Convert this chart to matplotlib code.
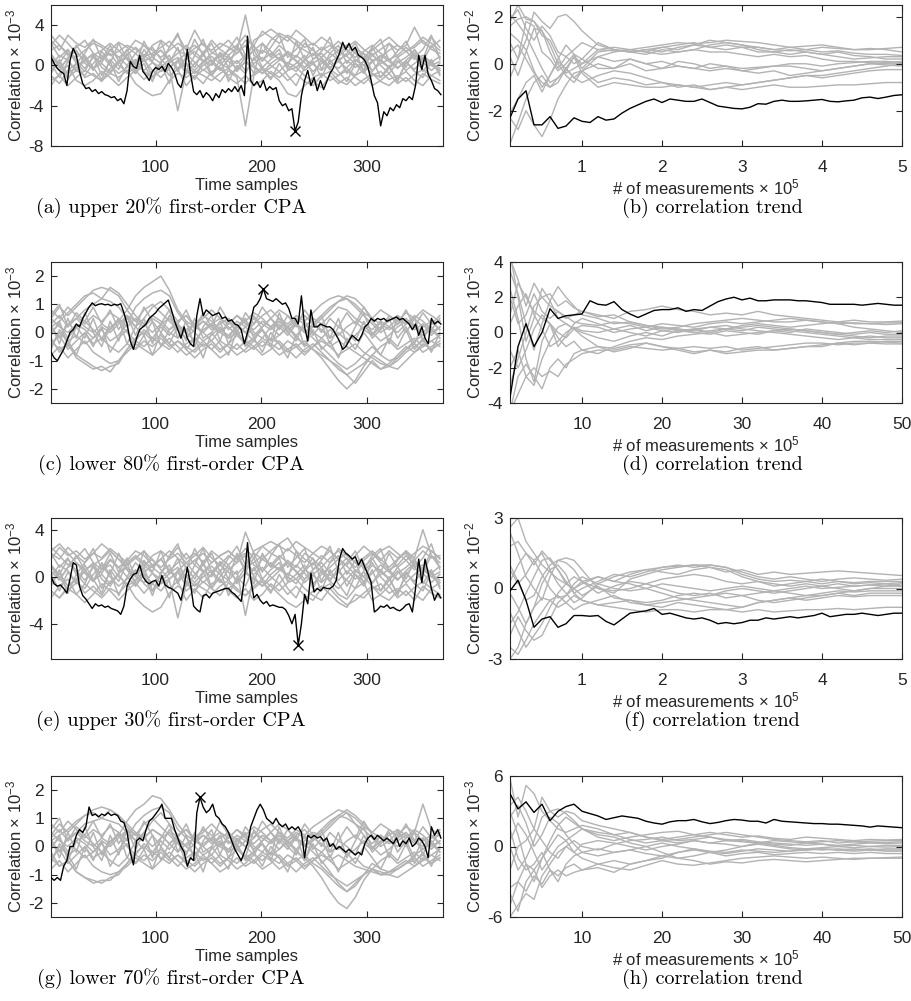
import numpy as np
import matplotlib
matplotlib.use("Agg")
import matplotlib.pyplot as plt

plt.rcParams["font.family"] = ["Liberation Sans", "DejaVu Sans"]
plt.rcParams["mathtext.fontset"] = "custom"
plt.rcParams["mathtext.rm"] = "Liberation Sans"
plt.rcParams["mathtext.it"] = "Liberation Sans:italic"
plt.rcParams["mathtext.default"] = "regular"
plt.rcParams["axes.unicode_minus"] = False

# ---------------- DATA (values x 1e-3 or 1e-2 as on the axes) ----------------
# Left panels: gray traces sampled every 8 time samples, black trace every 3
gray_t = np.arange(1, 370, 8)        # 47 time samples
black_t = np.arange(1, 371, 3)       # 124 time samples

a_gray = [
    [1.5, 2.0, 1.2, 0.8, 1.5, 2.2, 1.8, 1.0, 1.4, 2.0,
     1.6, 0.9, 1.2, 1.8, 2.4, 1.5, 1.0, 1.7, 2.2, 1.3,
     0.8, 1.5, 2.0, 3.0, 1.8, 1.2, 2.5, 3.2, 2.8, 2.0,
     1.5, 1.0, 1.8, 1.2, 0.6, 1.0, 1.6, 1.2, 0.5, 0.8,
     1.5, 2.0, 1.4, 1.8, 2.5, 1.6, 1.2],
    [0.5, -0.5, 0.8, 1.5, 0.2, -0.3, 0.6, 1.2, 0.0, -0.6,
     0.4, 1.0, 1.8, 0.6, -0.2, 0.5, 1.2, 0.3, -0.5, 0.2,
     1.0, 0.4, -0.3, 0.8, 1.5, 2.2, 1.4, 0.6, 0.2, 1.0,
     0.3, -0.6, 0.2, 0.8, 1.5, 0.9, 0.2, -0.4, 0.3, 1.0,
     0.4, -0.3, 0.5, 1.2, 0.6, 0.0, 0.4],
    [-1.5, -1.0, -2.0, -1.2, -0.5, -1.0, -1.5, -0.8, -1.2, -0.5,
     -1.8, -2.5, -3.0, -2.8, -1.5, -0.8, -1.2, -0.6, -1.0, -1.5,
     -0.8, -0.3, -1.0, -1.8, -0.8, -0.2, -0.8, -1.5, -2.8, -3.1,
     -2.0, -1.2, -0.8, -1.5, -1.0, -0.5, -1.2, -1.8, -1.0, -0.6,
     -1.4, -1.0, -1.6, -0.9, -0.4, -1.0, -1.5],
    [2.5, 1.5, 3.0, 2.2, 1.8, 2.5, 2.0, 1.5, 2.3, 1.8,
     1.2, 2.0, 1.5, 0.8, 1.5, 2.2, 1.6, 3.5, 2.0, 1.5,
     2.2, 1.8, 1.2, 2.5, 2.0, 3.4, 2.8, 2.2, 3.0, 2.5,
     1.8, 2.2, 1.5, 2.0, 1.2, 1.8, 2.4, 1.6, 1.0, 1.6,
     2.2, 1.5, 2.0, 3.8, 2.2, 1.8, 2.5],
    [-0.5, 0.3, -0.8, -0.2, 0.5, -0.3, 0.2, -0.6, 0.3, 0.8,
     0.0, -0.5, 0.3, -0.2, 0.6, -0.4, 0.2, -0.5, 0.4, 0.9,
     0.2, -0.3, 0.5, -0.5, 0.2, 0.8, 0.0, -0.6, 0.3, -0.2,
     0.6, 0.1, -0.5, 0.2, -0.3, 0.5, -0.2, 0.4, -0.5, 0.2,
     0.6, -0.2, 0.3, -0.4, 0.5, 0.2, -0.3],
    [1.0, 0.2, 1.5, 0.5, -0.3, 0.8, 0.3, 1.6, 0.8, 0.0,
     1.2, 0.4, 0.9, 1.5, 0.6, -0.3, 0.8, 1.4, 0.5, 0.0,
     1.3, 0.7, 0.2, 1.0, 0.5, 1.5, 1.0, 2.0, 1.2, 0.5,
     -0.2, 0.6, 1.2, 0.3, 0.9, 1.6, 0.5, 0.0, 1.0, 0.4,
     -0.2, 0.8, 1.4, 0.6, 1.0, 0.3, 0.9],
    [-1.0, -1.8, -0.5, 0.2, -1.2, -0.8, -1.6, -0.3, 0.4, -0.8,
     -0.2, 0.5, -0.5, -1.2, -0.3, -4.5, -0.6, -1.2, -0.4, -1.0,
     -1.6, -0.5, -1.2, -6.0, -1.0, -0.4, -1.2, -0.6, -1.5, -0.8,
     -1.6, -2.0, -1.0, -0.6, -1.5, -1.9, -1.0, -0.5, -2.0, -1.5,
     -0.8, -1.8, -1.2, -2.0, -0.8, -1.4, -1.8],
    [3.0, 2.0, 1.0, 1.8, 2.5, 1.2, 0.6, 1.5, 0.8, 1.4,
     2.5, 2.0, 1.0, 1.5, 0.5, 1.2, 2.0, 1.0, 0.4, 1.2,
     1.8, 2.5, 1.5, 5.0, 1.0, 0.5, 1.2, 0.6, 1.4, 0.8,
     2.2, 1.5, 0.8, 1.6, 2.4, 1.5, 0.8, 1.4, 2.0, 1.2,
     0.6, 1.0, 1.8, 1.0, 0.6, 2.8, 1.8],
    [0.0, 1.0, 0.5, -0.5, -1.0, 0.2, 1.0, 0.0, -0.8, -0.2,
     0.6, -0.6, -1.2, -0.5, 0.3, 0.8, 0.0, -0.8, 0.0, 0.5,
     -0.3, -1.0, -0.4, 0.3, -0.2, -0.8, 0.2, 0.8, 0.0, -0.6,
     0.5, 1.2, 0.4, -0.4, -1.0, -0.2, 0.6, 0.0, -0.8, -1.2,
     -0.3, 0.5, -0.5, 0.2, 0.8, 0.0, -0.5],
    [-2.0, -0.8, 0.0, -1.5, -2.0, -1.5, -0.6, -1.2, -2.0, -1.2,
     -0.5, -1.4, -0.6, 0.2, -1.0, -0.4, -2.0, -1.0, -1.8, -0.6,
     -0.2, -1.2, -1.8, -1.0, -2.0, -1.5, -0.6, -1.2, -0.5, -0.2,
     -1.0, -1.6, -2.2, -1.0, -1.8, -1.2, -2.0, -1.4, -0.8, -1.6,
     -2.0, -1.2, -0.6, -1.5, -2.0, -1.0, -0.5],
    [2.0, 3.0, 2.2, 1.2, 0.6, 1.0, 1.5, 2.2, 1.5, 0.6,
     0.2, 0.8, 2.0, 2.5, 1.8, 3.0, 1.5, 2.0, 1.2, 2.5,
     1.6, 1.0, 1.8, 0.5, 2.5, 3.0, 3.6, 3.0, 2.4, 3.5,
     2.8, 2.0, 2.8, 2.2, 1.5, 2.0, 1.2, 0.8, 1.5, 2.2,
     2.8, 2.0, 1.4, 2.0, 2.8, 2.2, 1.5],
    [0.8, 0.0, -1.2, -0.5, 0.5, 1.2, -0.2, -0.8, 0.3, 1.0,
     1.8, 1.0, 0.3, -0.6, -0.2, 0.4, -0.8, 0.2, 1.0, 0.3,
     -0.5, 0.6, 1.2, 2.0, 0.0, -0.8, -0.2, 0.5, 1.2, 0.4,
     -0.5, 0.2, 0.8, -0.2, 0.4, -0.3, -1.0, 0.5, 1.2, 0.0,
     -0.8, 0.3, 0.8, 1.5, 0.3, -0.5, 0.2],
    [1.2, -0.2, 0.6, 2.0, 0.8, -0.5, 1.4, 0.2, 2.2, 0.6,
     -0.4, 1.6, 0.4, 2.4, 0.2, 1.8, -0.6, 1.0, 2.6, 0.4,
     1.2, -0.2, 2.0, 0.6, -0.8, 2.2, 0.8, 1.6, -0.2, 2.4,
     0.6, 1.8, -0.4, 1.2, 2.0, 0.2, 1.4, -0.6, 1.8, 0.4,
     2.2, 0.8, -0.2, 1.6, 0.4, 2.0, 0.8],
    [-0.8, 0.6, -1.4, 0.2, -0.6, 1.0, -1.0, 0.4, -1.6, 0.0,
     -0.8, 0.8, -1.2, 0.2, -1.8, 0.6, -0.4, -1.4, 0.4, -1.0,
     0.6, -1.6, 0.0, -0.8, 0.8, -0.4, -1.4, 0.2, -1.0, -2.0,
     -0.2, 0.4, -1.2, 0.6, -0.6, -1.6, 0.2, -0.8, 0.6, -1.2,
     0.0, -1.6, 0.4, -0.6, -1.2, 0.4, -0.8],
    [2.2, 0.8, 1.6, 0.2, 1.2, 2.6, 0.6, 2.0, 0.4, 1.6,
     0.0, 2.4, 0.8, 0.2, 1.8, 3.2, 0.6, 2.6, 1.0, 2.2,
     0.4, 1.6, 2.8, 1.0, 2.0, 0.4, 1.8, 3.0, 0.8, 1.6,
     2.6, 0.6, 1.4, 2.8, 0.4, 1.2, 2.2, 0.6, 1.8, 2.6,
     0.4, 1.4, 2.4, 0.8, 1.6, 3.0, 0.6],
    [0.2, -1.2, 0.4, -0.6, 1.0, -0.2, -1.4, 0.6, -0.4, 1.2,
     -0.8, 0.2, -1.6, 0.4, 1.0, -0.6, 0.8, -0.2, 1.4, -1.0,
     0.0, 1.0, -0.6, 0.4, 1.6, -0.2, 0.6, 1.2, -0.4, 0.2,
     1.0, -1.0, 0.6, -0.4, 0.8, -0.8, 0.4, 1.2, -0.6, 0.6,
     -0.2, -1.4, 0.2, 1.0, -0.6, 0.6, -1.0],
]
a_black = [
    0.8, 0.2, -0.3, -0.6, -0.8, -2.0, 0.5, 1.7, 1.0, -0.6,
    -1.8, -2.3, -2.2, -2.6, -2.4, -2.8, -2.6, -2.9, -3.0, -3.2,
    -3.1, -3.5, -3.3, -3.8, -2.5, 0.4, -0.1, -0.3, 1.0, -0.6,
    -1.0, -1.5, -0.6, -0.2, -0.4, -0.1, -0.6, 0.2, -0.2, -0.8,
    -1.8, -2.2, -1.0, 1.6, -0.8, -2.6, -2.9, -2.5, -3.2, -2.7,
    -3.0, -3.5, -2.8, -3.2, -2.4, -2.7, -2.3, -2.6, -2.1, -2.6,
    -2.0, -3.0, 2.9, -1.5, -2.0, -1.6, -2.2, -1.5, -2.5, -2.1,
    -2.4, -2.2, -3.5, -4.0, -3.8, -4.5, -4.3, -6.5, -5.6, -3.0,
    -1.5, -0.5, -2.0, -1.2, -2.5, -1.5, -2.4, -1.6, -0.8, -0.3,
    0.5, 1.2, 2.3, 1.6, 2.2, 1.5, 1.8, 1.0, 0.8, 0.5,
    -0.2, -1.5, -3.0, -3.7, -6.0, -4.6, -5.0, -4.2, -4.5, -3.9,
    -4.2, -3.3, -3.5, -3.1, -3.4, -2.0, 1.0, -0.4, 1.0, -0.9,
    -1.5, -2.3, -2.5, -2.9,
]

c_gray = [
    [0.5, 0.9, 0.6, 0.9, 1.2, 1.5, 1.6, 1.5, 1.3, 0.8,
     0.4, 0.2, 0.5, 0.3, 0.0, -0.2, 0.1, 0.3, 0.0, -0.3,
     0.1, 0.2, -0.1, 0.2, 0.5, 0.3, 0.1, 0.4, 0.2, -0.1,
     0.2, 0.5, 0.3, 0.6, 0.9, 0.8, 0.5, 0.3, 0.1, 0.4,
     0.2, 0.0, 0.3, 0.5, 0.2, 0.4, 0.1],
    [-0.3, -0.6, -0.4, -0.8, -1.0, -1.2, -1.35, -1.2, -1.1, -0.6,
     -0.3, -0.5, -0.2, -0.4, -0.6, -0.3, -0.5, -0.7, -0.4, -0.6,
     -0.3, -0.5, -0.8, -0.6, -0.3, -0.5, -0.2, -0.4, -0.7, -0.5,
     -0.3, -0.6, -0.8, -1.0, -1.3, -1.5, -1.3, -1.1, -0.8, -1.0,
     -1.2, -1.3, -1.0, -0.7, -0.5, -0.3, -0.5],
    [0.2, -0.2, 0.3, 0.5, 0.2, 0.0, 0.3, 0.1, 0.4, 0.8,
     1.3, 1.6, 1.8, 2.0, 1.5, 0.8, 0.4, 0.2, 0.4, 0.1,
     0.3, 0.5, 0.2, 0.4, 0.0, -0.2, 0.2, 0.4, 0.1, 0.3,
     0.0, 0.2, 0.5, 0.8, 1.1, 1.3, 1.2, 0.9, 0.5, 0.3,
     0.1, 0.3, 0.5, 0.2, 0.0, 0.3, 0.4],
    [-0.5, 0.0, -0.3, -0.1, -0.4, -0.2, 0.1, -0.3, -0.1, 0.3,
     0.9, 1.2, 1.4, 1.5, 1.3, 0.7, 0.3, 0.0, -0.3, -0.1,
     0.2, -0.2, 0.0, -0.4, -0.2, 0.1, -0.3, -0.1, 0.2, -0.2,
     -0.4, -0.6, -0.9, -1.3, -1.7, -2.0, -1.7, -1.2, -0.8, -0.5,
     -0.3, -0.6, -0.4, -0.2, -0.5, -0.3, -0.1],
    [0.8, 0.5, 0.9, 0.6, 0.3, 0.6, 0.4, 0.7, 0.5, 0.2,
     0.5, 0.3, 0.6, 0.4, 0.1, 0.4, 0.6, 0.3, 0.5, 0.8,
     0.5, 0.3, 0.6, 0.4, 0.7, 0.5, 0.2, 0.5, 0.3, 0.6,
     0.4, 0.7, 1.0, 1.2, 1.3, 1.2, 1.0, 0.7, 0.5, 0.8,
     0.6, 0.4, 0.7, 0.5, 0.8, 0.6, 0.4],
    [0.0, 0.3, -0.2, 0.2, 0.4, 0.1, -0.2, 0.2, 0.4, 0.0,
     -0.3, 0.1, -0.2, 0.2, -0.1, 0.3, 0.0, -0.3, 0.1, 0.3,
     0.0, -0.2, 0.3, 0.0, -0.3, 0.2, 0.5, 0.2, -0.1, 0.3,
     0.1, -0.2, -0.5, -0.8, -1.1, -1.3, -1.1, -0.8, -0.5, -0.8,
     -1.0, -0.9, -0.6, -0.3, -0.1, 0.2, -0.2],
    [-0.8, -0.5, -0.9, -0.6, -0.3, -0.7, -0.9, -1.1, -1.0, -0.7,
     -0.4, -0.6, -0.8, -0.5, -0.2, -0.5, -0.8, -0.6, -0.3, -0.6,
     -0.9, -0.7, -0.4, -0.7, -0.5, -0.8, -0.6, -0.3, -0.6, -0.4,
     -0.7, -0.5, -0.2, -0.5, -0.8, -0.6, -0.4, -0.7, -0.9, -1.1,
     -1.2, -0.9, -0.6, -0.4, -0.7, -0.5, -0.3],
    [0.3, 0.6, 0.2, 0.5, 0.8, 1.0, 1.2, 1.1, 0.9, 0.5,
     0.2, 0.5, 0.9, 1.1, 0.8, 0.4, 0.6, 0.2, 0.0, 0.3,
     0.5, 0.1, 0.4, 0.2, -0.1, 0.2, 0.5, 0.8, 0.6, 0.3,
     0.0, 0.3, 0.6, 0.9, 1.1, 1.2, 0.9, 0.6, 0.3, 0.0,
     0.2, 0.5, 0.3, 0.6, 0.4, 0.1, 0.5],
    [-0.2, -0.7, -0.4, -0.9, -1.1, -1.3, -1.2, -1.4, -1.0, -0.6,
     -0.2, 0.0, -0.3, -0.1, -0.4, -0.7, -0.4, -0.2, -0.5, -0.3,
     -0.6, -0.4, -0.1, -0.4, -0.6, -0.3, -0.5, -0.8, -0.6, -0.9,
     -0.6, -0.4, -0.7, -1.0, -1.2, -1.5, -1.8, -1.4, -1.0, -1.3,
     -1.1, -0.8, -0.5, -0.7, -0.4, -0.6, -0.4],
    [0.5, 0.2, 0.0, 0.3, 0.1, -0.2, 0.2, 0.0, 0.3, 0.6,
     0.4, 0.8, 1.0, 0.7, 0.4, 0.1, -0.2, 0.1, 0.4, 0.2,
     0.0, 0.3, 0.6, 0.3, 0.1, 0.4, 0.2, -0.1, 0.2, 0.5,
     0.3, 0.0, -0.2, 0.1, -0.1, 0.2, 0.4, 0.1, -0.1, 0.2,
     0.4, 0.6, 0.4, 0.1, 0.3, 0.0, 0.2],
    [-0.4, -0.1, -0.6, -0.3, 0.0, -0.4, -0.2, -0.5, -0.7, -0.4,
     -0.6, -0.3, -0.5, -0.2, -0.5, -0.3, -0.6, -0.9, -0.6, -0.4,
     -0.7, -0.4, -0.6, -0.3, -0.5, -0.2, -0.4, -0.6, -0.3, -0.5,
     -0.8, -0.5, -0.3, -0.5, -0.3, -0.5, -0.7, -0.9, -1.1, -1.3,
     -1.2, -1.0, -0.7, -0.5, -0.3, -0.6, -0.4],
    [0.2, 0.4, 0.7, 1.0, 1.3, 1.4, 1.2, 1.6, 1.4, 1.0,
     0.6, 0.3, 0.0, 0.3, 0.5, 0.2, 0.0, 0.3, 0.6, 0.4,
     0.1, -0.1, 0.2, 0.0, 0.3, 0.6, 0.8, 0.5, 0.2, 0.4,
     0.6, 0.3, 0.1, -0.2, 0.0, -0.3, -0.1, 0.2, 0.0, -0.3,
     -0.1, 0.2, 0.4, 0.2, -0.1, 0.1, -0.2],
    [0.3, -0.4, 0.5, -0.2, 0.7, 0.0, -0.5, 0.4, -0.3, 0.6,
     -0.1, 0.5, -0.4, 0.3, 0.8, -0.2, 0.4, -0.5, 0.2, 0.6,
     -0.3, 0.5, 0.0, -0.4, 0.6, 0.1, -0.3, 0.7, 0.0, 0.4,
     -0.5, 0.3, 0.6, -0.2, 0.5, -0.4, 0.2, 0.7, -0.1, 0.4,
     -0.4, 0.6, 0.0, 0.5, -0.3, 0.4, 0.1],
    [-0.6, 0.1, -0.3, -0.8, 0.0, -0.5, 0.2, -0.7, -0.2, 0.1,
     -0.6, -0.1, -0.8, 0.0, -0.4, 0.2, -0.6, -0.2, -0.9, 0.0,
     -0.4, -0.8, 0.1, -0.5, -0.2, -0.7, 0.0, -0.4, -0.9, -0.1,
     -0.5, 0.1, -0.6, -0.3, -0.9, -0.2, -0.6, 0.0, -0.4, -0.8,
     -0.2, -0.5, 0.1, -0.6, -0.2, -0.7, 0.0],
    [0.6, 1.0, 0.2, 0.7, 0.4, 0.9, 0.3, 0.8, 0.1, 0.6,
     0.2, 0.9, 0.4, 0.0, 0.6, 0.3, 0.8, 0.1, 0.7, 0.2,
     0.9, 0.4, 0.0, 0.7, 0.3, 0.9, 0.5, 0.1, 0.6, 0.2,
     0.8, 0.4, 0.0, 0.5, 0.2, 0.7, 0.3, 0.9, 0.4, 0.1,
     0.6, 0.3, 0.8, 0.2, 0.7, 0.3, 0.6],
    [-0.1, 0.4, -0.5, 0.2, -0.2, 0.5, -0.3, 0.1, 0.5, -0.4,
     0.2, -0.1, 0.4, -0.5, 0.1, 0.3, -0.3, 0.5, -0.2, 0.0,
     0.4, -0.4, 0.2, 0.5, -0.2, 0.1, -0.5, 0.3, 0.0, -0.3,
     0.4, -0.1, 0.3, -0.4, 0.2, 0.0, -0.3, 0.4, -0.2, 0.1,
     0.5, -0.2, 0.2, -0.4, 0.3, -0.1, 0.2],
]
c_black = [
    -0.7, -0.9, -1.0, -0.8, -0.6, -0.3, 0.0, 0.1, 0.3, 0.2,
    0.5, 0.7, 0.9, 1.05, 0.95, 1.0, 1.02, 0.98, 1.0, 0.95,
    1.0, 0.97, 1.02, 0.7, 0.3, -0.3, -0.6, -0.2, 0.1, 0.2,
    0.3, 0.5, 0.6, 0.7, 0.85, 0.95, 1.05, 1.15, 0.8, 0.4,
    0.1, -0.2, 0.2, -0.2, -0.4, -0.5, 0.6, 1.2, 0.6, 0.8,
    0.7, 0.6, 0.65, 0.7, 0.5, 0.55, 0.4, 0.45, 0.3, 0.25,
    0.1, -0.4, 0.0, 0.4, 0.9, 1.0, 1.2, 1.55, 1.2, 1.15,
    1.1, 1.2, 1.1, 1.0, 1.05, 0.85, 0.5, 0.5, 0.3, 1.3,
    0.2, -0.3, 0.8, 0.2, 0.2, 0.3, 0.25, 0.2, 0.2, 0.1,
    -0.1, -0.3, -0.6, -0.5, -0.3, -0.1, -0.2, -0.3, -0.1, 0.2,
    0.3, 0.5, 0.4, 0.5, 0.45, 0.5, 0.4, 0.45, 0.5, 0.55,
    0.45, 0.5, 0.4, 0.3, 0.1, 0.3, -0.1, 0.2, -0.2, -0.4,
    0.5, 0.3, 0.4, 0.3,
]

e_gray = [
    [2.0, 1.5, 2.5, 1.8, 1.2, 2.0, 2.8, 2.2, 1.5, 1.0,
     1.6, 2.2, 1.4, 0.8, 1.5, 2.0, 1.2, 1.8, 2.5, 1.6,
     1.0, 1.8, 1.2, 3.8, 2.0, 1.5, 2.2, 2.8, 3.3, 2.2,
     1.5, 1.0, 1.8, 1.2, 2.4, 1.8, 1.2, 1.6, 2.2, 1.5,
     0.8, 1.5, 2.2, 1.6, 4.0, 1.8, 1.2],
    [0.5, -0.3, 0.8, 1.2, 0.3, -0.4, 0.6, 1.0, 0.0, -0.6,
     0.4, 1.0, 1.5, 0.6, -0.2, 0.5, 1.2, 0.3, -0.5, 0.2,
     1.0, 0.4, -0.3, 0.8, 1.2, 1.8, 1.0, 0.6, 0.2, 1.0,
     0.3, -0.6, 0.2, 0.8, 1.5, 0.9, 0.2, -0.4, 0.3, 1.0,
     0.4, -0.3, 0.5, 1.2, 0.6, 0.0, 0.4],
    [-1.2, -1.8, -1.0, -1.5, -0.6, -1.2, -1.8, -1.0, -1.4, -0.6,
     -1.8, -2.5, -3.0, -2.6, -1.4, -0.8, -1.2, -0.6, -1.0, -1.5,
     -0.8, -0.3, -1.0, -1.6, -0.8, -0.2, -0.8, -1.5, -2.2, -2.6,
     -2.0, -1.2, -0.8, -1.5, -2.2, -2.6, -1.5, -1.8, -1.0, -0.6,
     -1.4, -1.0, -1.6, -0.9, -0.4, -1.0, -1.5],
    [1.5, 2.5, 1.8, 2.2, 1.5, 2.0, 1.6, 2.4, 1.8, 1.2,
     1.8, 1.2, 0.8, 1.5, 2.2, 1.6, 0.8, 1.4, 2.0, 1.2,
     1.8, 2.2, 1.5, 2.4, 1.6, 2.6, 2.0, 1.6, 2.4, 1.8,
     1.2, 2.0, 1.5, 2.2, 1.5, 1.0, 1.8, 2.6, 2.0, 1.4,
     2.2, 1.6, 2.0, 1.4, 2.2, 1.6, 1.8],
    [-0.5, 0.3, -0.8, -0.2, 0.5, -0.3, 0.2, -0.6, 0.3, 0.8,
     0.0, -0.5, 0.3, -0.2, 0.6, -0.4, 0.2, -0.5, 0.4, 0.9,
     0.2, -0.3, 0.5, -3.3, 0.2, 0.8, 0.0, -0.6, 0.3, -0.2,
     0.6, 0.1, -0.5, 0.2, -0.3, 0.5, -0.2, 0.4, -0.5, 0.2,
     0.6, -0.2, 0.3, -0.4, 0.5, 0.2, -0.3],
    [1.0, 0.2, 1.5, 0.5, -0.3, 0.8, 0.3, 1.4, 0.8, 0.0,
     1.2, 0.4, 0.9, 1.5, 0.6, -0.3, 0.8, 1.4, 0.5, 0.0,
     1.3, 0.7, 0.2, 1.0, 0.5, 1.5, 1.0, 1.8, 1.2, 0.5,
     -0.2, 0.6, 1.2, 0.3, 0.9, 1.6, 0.5, 0.0, 1.0, 0.4,
     -0.2, 0.8, 1.4, 0.6, 1.0, 0.3, 0.9],
    [-1.2, -1.8, -0.8, -0.2, -1.4, -0.8, -1.6, -0.4, 0.2, -0.8,
     -0.3, 0.3, -0.6, -1.2, -0.3, -3.5, -0.6, -1.2, -0.4, -1.0,
     -1.6, -0.5, -1.2, -1.6, -1.0, -0.4, -1.2, -0.6, -1.5, -0.8,
     -1.6, -2.0, -1.0, -0.6, -1.5, -1.9, -1.0, -0.5, -2.0, -1.5,
     -0.8, -1.8, -1.2, -2.0, -0.8, -1.4, -1.8],
    [2.5, 1.8, 1.0, 1.6, 2.4, 1.2, 0.6, 1.5, 0.8, 1.4,
     2.2, 1.8, 1.0, 1.5, 0.5, 1.2, 2.0, 1.0, 0.4, 1.2,
     1.8, 2.2, 1.5, 2.0, 1.0, 0.5, 1.2, 0.6, 1.4, 0.8,
     2.0, 1.5, 0.8, 1.6, 2.2, 1.5, 0.8, 1.4, 2.0, 1.2,
     0.6, 1.0, 1.8, 1.0, 0.6, 2.2, 1.6],
    [0.0, 1.0, 0.5, -0.5, -1.0, 0.2, 1.0, 0.0, -0.8, -0.2,
     0.6, -0.6, -1.2, -0.5, 0.3, 0.8, 0.0, -0.8, 0.0, 0.5,
     -0.3, -1.0, -0.4, 0.3, -0.2, -0.8, 0.2, 0.8, 0.0, -0.6,
     0.5, 1.2, 0.4, -0.4, -1.0, -0.2, 0.6, 0.0, -0.8, -1.2,
     -0.3, 0.5, -0.5, 0.2, 0.8, 0.0, -0.5],
    [-1.8, -0.8, -0.2, -1.5, -2.2, -1.5, -0.6, -1.2, -2.0, -1.2,
     -0.5, -1.4, -0.6, 0.2, -1.0, -0.4, -2.0, -1.0, -1.8, -0.6,
     -0.2, -1.2, -1.8, -1.0, -2.0, -1.5, -0.6, -1.2, -0.5, -0.2,
     -1.0, -1.6, -2.0, -1.0, -1.8, -2.4, -2.0, -1.4, -0.8, -1.6,
     -2.0, -1.2, -0.6, -1.5, -2.0, -1.0, -0.5],
    [2.2, 2.8, 2.0, 1.2, 0.6, 1.0, 1.5, 2.2, 1.5, 0.6,
     0.2, 0.8, 1.8, 2.2, 1.6, 2.5, 1.5, 2.0, 1.2, 2.2,
     1.6, 1.0, 1.8, 0.5, 2.2, 2.6, 3.0, 2.6, 2.2, 3.0,
     2.5, 2.0, 2.6, 2.2, 1.5, 2.0, 1.2, 0.8, 1.5, 2.2,
     2.6, 2.0, 1.4, 2.0, 2.6, 2.2, 1.5],
    [0.8, 0.0, -1.2, -0.5, 0.5, 1.2, -0.2, -0.8, 0.3, 1.0,
     1.6, 1.0, 0.3, -0.6, -0.2, 0.4, -0.8, 0.2, 1.0, 0.3,
     -0.5, 0.6, 1.2, 1.8, 0.0, -0.8, -0.2, 0.5, 1.2, 0.4,
     -0.5, 0.2, 0.8, -0.2, 0.4, -0.3, -1.0, 0.5, 1.2, 0.0,
     -0.8, 0.3, 0.8, 1.5, 0.3, -0.5, 0.2],
    [1.0, -0.2, 0.8, 1.8, 0.6, -0.4, 1.2, 0.2, 2.0, 0.6,
     -0.4, 1.4, 0.4, 2.2, 0.2, 1.6, -0.6, 1.0, 2.4, 0.4,
     1.2, -0.2, 2.0, 0.6, -0.6, 2.0, 0.8, 1.6, -0.2, 2.2,
     0.6, 1.6, -0.4, 1.2, 1.8, 0.2, 1.4, -0.6, 1.6, 0.4,
     2.0, 0.8, -0.2, 1.4, 0.4, 1.8, 0.8],
    [-0.8, 0.6, -1.4, 0.2, -0.6, 1.0, -1.0, 0.4, -1.6, 0.0,
     -0.8, 0.8, -1.2, 0.2, -1.8, 0.6, -0.4, -1.4, 0.4, -1.0,
     0.6, -1.6, 0.0, -0.8, 0.8, -0.4, -1.4, 0.2, -1.0, -1.8,
     -0.2, 0.4, -1.2, 0.6, -0.6, -1.6, 0.2, -0.8, 0.6, -1.2,
     0.0, -1.6, 0.4, -0.6, -1.2, 0.4, -0.8],
    [2.0, 0.8, 1.6, 0.2, 1.2, 2.4, 0.6, 2.0, 0.4, 1.6,
     0.0, 2.2, 0.8, 0.2, 1.8, 2.8, 0.6, 2.4, 1.0, 2.0,
     0.4, 1.6, 2.6, 1.0, 2.0, 0.4, 1.8, 2.8, 0.8, 1.6,
     2.4, 0.6, 1.4, 2.6, 0.4, 1.2, 2.2, 0.6, 1.8, 2.4,
     0.4, 1.4, 2.2, 0.8, 1.6, 2.8, 0.6],
    [0.2, -1.2, 0.4, -0.6, 1.0, -0.2, -1.4, 0.6, -0.4, 1.2,
     -0.8, 0.2, -1.6, 0.4, 1.0, -0.6, 0.8, -0.2, 1.4, -1.0,
     0.0, 1.0, -0.6, 0.4, 1.6, -0.2, 0.6, 1.2, -0.4, 0.2,
     1.0, -1.0, 0.6, -0.4, 0.8, -0.8, 0.4, 1.2, -0.6, 0.6,
     -0.2, -1.4, 0.2, 1.0, -0.6, 0.6, -1.0],
]
e_black = [
    0.0, -0.6, -0.8, -0.7, -1.0, -1.4, -0.2, 1.2, 1.0, -0.8,
    -1.6, -1.9, -2.3, -2.7, -2.3, -2.5, -2.4, -2.6, -2.5, -2.7,
    -2.8, -2.9, -3.2, -2.5, -0.8, -0.2, 0.2, 0.3, 1.0, 0.0,
    -0.4, -0.6, -0.4, -0.3, -0.8, 0.1, -0.7, -0.9, -1.0, -1.2,
    -1.4, -2.0, -0.8, 0.8, -0.6, -2.5, -2.8, -3.0, -1.6, -1.5,
    -1.8, -1.4, -1.3, -1.2, -1.1, -1.0, -1.0, -1.3, -1.5, -1.8,
    -2.1, -0.2, 2.9, -0.2, -1.8, -1.5, -2.0, -2.3, -2.1, -2.5,
    -2.4, -2.5, -2.6, -2.6, -2.8, -3.3, -4.0, -3.2, -5.8, -4.0,
    -1.5, -2.3, 0.3, -1.3, -1.0, -1.2, -0.9, -1.0, -1.0, -0.8,
    -0.3, 1.5, 2.4, 2.0, 1.8, 1.5, 1.7, 1.0, 1.5, 0.8,
    0.2, -0.5, -3.0, -2.8, -2.5, -2.6, -2.4, -2.7, -2.6, -2.8,
    -2.9, -2.7, -2.4, -2.3, -3.0, -1.0, 1.5, -0.5, 1.5, 0.3,
    -1.0, -2.0, -1.4, -1.8,
]

g_gray = [
    [0.4, 0.8, 0.5, 0.8, 1.1, 1.3, 1.4, 1.3, 1.1, 0.7,
     0.4, 0.3, 0.6, 0.4, 0.1, -0.2, 0.1, 0.3, 0.0, -0.3,
     0.1, 0.2, -0.1, 0.2, 0.5, 0.3, 0.1, 0.4, 0.2, -0.1,
     0.2, 0.5, 0.4, 0.7, 1.0, 1.2, 0.8, 0.4, 0.1, 0.4,
     0.2, 0.0, 0.3, 0.5, 0.2, 0.4, 0.1],
    [-0.4, -0.7, -0.5, -0.9, -1.1, -1.2, -1.3, -1.1, -1.0, -0.6,
     -0.3, -0.5, -0.2, -0.4, -0.6, -0.3, -0.5, -0.7, -0.4, -0.6,
     -0.3, -0.5, -0.8, -0.6, -0.3, -0.5, -0.2, -0.4, -0.7, -0.5,
     -0.3, -0.6, -0.8, -1.1, -1.4, -1.6, -1.3, -1.0, -0.8, -0.9,
     -1.0, -1.1, -0.9, -0.7, -0.5, -0.3, -0.5],
    [0.2, -0.2, 0.3, 0.5, 0.2, 0.0, 0.3, 0.1, 0.4, 0.9,
     1.3, 1.5, 1.8, 1.7, 1.3, 0.8, 0.4, 0.2, 0.4, 0.1,
     0.3, 0.5, 0.2, 0.4, 0.0, -0.2, 0.2, 0.4, 0.1, 0.3,
     0.0, 0.2, 0.5, 0.8, 1.1, 1.3, 1.1, 0.8, 0.5, 0.3,
     0.1, 0.3, 0.5, 0.2, 0.0, 0.3, 0.4],
    [-0.5, 0.0, -0.3, -0.1, -0.4, -0.2, 0.1, -0.3, -0.1, 0.3,
     0.8, 1.1, 1.3, 1.4, 1.2, 0.6, 0.3, 0.0, -0.3, -0.1,
     0.2, -0.2, 0.0, -0.4, -0.2, 0.1, -0.3, -0.1, 0.2, -0.2,
     -0.4, -0.7, -1.1, -1.6, -2.0, -2.2, -1.8, -1.2, -0.8, -0.5,
     -0.3, -0.6, -0.4, -0.2, -0.5, -0.3, -0.1],
    [0.8, 0.5, 0.9, 0.6, 0.3, 0.6, 0.4, 0.7, 0.5, 0.2,
     0.5, 0.3, 0.6, 0.4, 0.1, 0.4, 0.6, 0.3, 0.5, 0.8,
     0.5, 0.3, 0.6, 0.4, 0.7, 0.5, 0.2, 0.5, 0.3, 0.6,
     0.4, 0.7, 0.9, 1.1, 1.3, 1.2, 1.0, 0.7, 0.5, 0.8,
     0.6, 0.4, 0.7, 0.5, 1.5, 0.6, 0.4],
    [0.0, 0.3, -0.2, 0.2, 0.4, 0.1, -0.2, 0.2, 0.4, 0.0,
     -0.3, 0.1, -0.2, 0.2, -0.1, 0.3, 0.0, -0.3, 0.1, 0.3,
     0.0, -0.2, 0.3, 0.0, -0.3, 0.2, 0.5, 0.2, -0.1, 0.3,
     0.1, -0.2, -0.5, -0.9, -1.3, -1.6, -1.4, -1.0, -0.6, -0.8,
     -0.9, -0.8, -0.6, -0.3, -0.1, 0.2, -0.2],
    [-0.8, -0.5, -0.9, -0.6, -0.3, -0.7, -0.9, -1.0, -0.9, -0.7,
     -0.4, -0.6, -0.8, -0.5, -0.2, -0.5, -0.8, -0.6, -0.3, -0.6,
     -0.9, -0.7, -0.4, -0.7, -0.5, -0.8, -0.6, -0.3, -0.6, -0.4,
     -0.7, -0.5, -0.2, -0.5, -0.8, -0.6, -0.4, -0.7, -0.8, -1.0,
     -1.0, -0.8, -0.6, -0.4, -0.7, -0.5, -0.3],
    [0.3, 0.6, 0.2, 0.5, 0.8, 0.9, 1.0, 0.9, 0.8, 0.5,
     0.2, 0.5, 0.9, 1.2, 0.8, 0.4, 0.6, 0.2, 0.0, 0.3,
     0.5, 0.1, 0.4, 0.2, -0.1, 0.2, 0.5, 0.8, 0.6, 0.3,
     0.0, 0.3, 0.6, 0.9, 1.1, 1.0, 0.8, 0.6, 0.3, 0.0,
     0.2, 0.5, 0.3, 0.6, 0.4, 0.1, 0.5],
    [-0.2, -0.7, -0.5, -0.9, -1.1, -1.3, -1.2, -1.2, -0.9, -0.6,
     -0.2, 0.0, -0.3, -0.1, -0.4, -0.7, -0.4, -0.2, -0.5, -0.3,
     -0.6, -0.4, -0.1, -0.4, -0.6, -0.3, -0.5, -0.8, -0.6, -0.9,
     -0.6, -0.4, -0.7, -1.0, -1.2, -1.4, -1.2, -1.0, -0.8, -1.0,
     -0.9, -0.7, -0.5, -0.7, -0.4, -0.6, -0.4],
    [0.5, 0.2, 0.0, 0.3, 0.1, -0.2, 0.2, 0.0, 0.3, 0.6,
     0.4, 0.8, 1.0, 0.7, 0.4, 0.1, -0.2, 0.1, 0.4, 0.2,
     0.0, 0.3, 0.6, 0.3, 0.1, 0.4, 0.2, -0.1, 0.2, 0.5,
     0.3, 0.0, -0.2, 0.1, -0.1, 0.2, 0.4, 0.1, -0.1, 0.2,
     0.4, 0.6, 0.4, 0.1, 0.3, 0.0, 0.2],
    [-0.4, -0.1, -0.6, -0.3, 0.0, -0.4, -0.2, -0.5, -0.7, -0.4,
     -0.6, -0.3, -0.5, -0.2, -0.5, -0.3, -0.6, -0.9, -0.6, -0.4,
     -0.7, -0.4, -0.6, -0.3, -0.5, -0.2, -0.4, -0.6, -0.3, -0.5,
     -0.8, -0.5, -0.3, -0.5, -0.3, -0.5, -0.7, -0.8, -0.9, -1.0,
     -0.9, -0.8, -0.6, -0.5, -0.3, -0.6, -0.4],
    [0.2, 0.4, 0.6, 0.9, 1.1, 1.2, 1.0, 1.3, 1.1, 0.8,
     0.5, 0.3, 0.0, 0.3, 0.5, 0.2, 0.0, 0.3, 0.6, 0.4,
     0.1, -0.1, 0.2, 0.0, 0.3, 0.6, 0.8, 0.5, 0.2, 0.4,
     0.6, 0.3, 0.1, -0.2, 0.0, -0.3, -0.1, 0.2, 0.0, -0.3,
     -0.1, 0.2, 0.4, 0.2, -0.1, 0.1, -0.2],
    [0.3, -0.4, 0.5, -0.2, 0.7, 0.0, -0.5, 0.4, -0.3, 0.6,
     -0.1, 0.5, -0.4, 0.3, 0.8, -0.2, 0.4, -0.5, 0.2, 0.6,
     -0.3, 0.5, 0.0, -0.4, 0.6, 0.1, -0.3, 0.7, 0.0, 0.4,
     -0.5, 0.3, 0.6, -0.2, 0.5, -0.4, 0.2, 0.7, -0.1, 0.4,
     -0.4, 0.6, 0.0, 0.5, -0.3, 0.4, 0.1],
    [-0.6, 0.1, -0.3, -0.8, 0.0, -0.5, 0.2, -0.7, -0.2, 0.1,
     -0.6, -0.1, -0.8, 0.0, -0.4, 0.2, -0.6, -0.2, -0.9, 0.0,
     -0.4, -0.8, 0.1, -0.5, -0.2, -0.7, 0.0, -0.4, -0.9, -0.1,
     -0.5, 0.1, -0.6, -0.3, -0.9, -0.2, -0.6, 0.0, -0.4, -0.8,
     -0.2, -0.5, 0.1, -0.6, -0.2, -0.7, 0.0],
    [0.6, 1.0, 0.2, 0.7, 0.4, 0.9, 0.3, 0.8, 0.1, 0.6,
     0.2, 0.9, 0.4, 0.0, 0.6, 0.3, 0.8, 0.1, 0.7, 0.2,
     0.9, 0.4, 0.0, 0.7, 0.3, 0.9, 0.5, 0.1, 0.6, 0.2,
     0.8, 0.4, 0.0, 0.5, 0.2, 0.7, 0.3, 0.9, 0.4, 0.1,
     0.6, 0.3, 0.8, 0.2, 0.7, 0.3, 0.6],
    [-0.1, 0.4, -0.5, 0.2, -0.2, 0.5, -0.3, 0.1, 0.5, -0.4,
     0.2, -0.1, 0.4, -0.5, 0.1, 0.3, -0.3, 0.5, -0.2, 0.0,
     0.4, -0.4, 0.2, 0.5, -0.2, 0.1, -0.5, 0.3, 0.0, -0.3,
     0.4, -0.1, 0.3, -0.4, 0.2, 0.0, -0.3, 0.4, -0.2, 0.1,
     0.5, -0.2, 0.2, -0.4, 0.3, -0.1, 0.2],
]
g_black = [
    -1.1, -1.2, -1.1, -1.2, -0.7, -0.5, 0.0, 0.0, 0.4, 0.6,
    0.5, 0.7, 1.4, 1.1, 1.15, 1.05, 1.15, 1.1, 1.2, 1.1,
    1.15, 1.1, 0.9, 0.85, 0.5, -0.2, -0.65, 0.2, 0.3, 0.2,
    0.6, 0.9, 1.0, 1.15, 1.3, 1.5, 1.0, 1.0, 1.0, 0.6,
    0.3, 0.0, -0.2, -0.7, -0.4, -0.5, 1.2, 1.75, 1.4, 1.2,
    1.3, 1.5, 1.1, 1.0, 0.8, 0.7, 0.5, 0.2, -0.1, -0.3,
    -0.5, -0.2, 0.1, 0.7, 1.0, 1.3, 1.5, 1.3, 1.0, 0.9,
    0.8, 1.0, 0.8, 0.7, 0.8, 0.6, 0.7, 0.6, 0.7, 0.5,
    -0.4, 0.4, 0.3, 0.4, 0.3, 0.35, 0.2, 0.3, 0.0, 0.1,
    -0.1, 0.0, -0.1, -0.2, -0.1, -0.2, -0.3, -0.2, -0.3, 0.1,
    0.3, 0.4, 0.25, 0.4, 0.3, 0.2, 0.3, 0.2, 0.1, 0.3,
    0.0, 0.2, 0.1, 0.3, 0.0, 0.1, 0.3, 0.2, 0.0, -0.4,
    0.7, 0.4, 0.6, 0.3,
]

# Right panels: number of measurements index (x 1e5 for b,f; plain for d,h)
trend_idx_gray = [1, 2, 3, 4, 5, 6, 7, 8, 9, 10,
                  12, 14, 16, 18, 20, 22, 24, 26, 28, 30,
                  32, 34, 36, 38, 40, 42, 44, 46, 48, 50]
trend_idx_black = list(range(1, 51))

b_gray = [
    [1.9, 2.3, 1.5, 1.0, 1.6, 1.2, 0.5, 0.3, 0.6, 0.9,
     0.6, 0.55, 0.6, 0.7, 0.8, 0.9, 0.85, 0.9, 1.0, 0.95,
     0.9, 0.8, 0.7, 0.75, 0.8, 0.7, 0.6, 0.65, 0.6, 0.5],
    [1.6, 1.9, 2.0, 1.8, 1.4, 0.5, -0.2, 0.3, 0.0, 0.2,
     0.9, 0.6, 0.5, 0.6, 0.5, 0.7, 0.8, 1.0, 0.9, 0.8,
     0.7, 0.6, 0.7, 0.6, 0.5, 0.55, 0.45, 0.4, 0.4, 0.35],
    [1.3, 1.0, 0.6, -0.3, -1.0, -0.5, 0.2, 0.8, 0.4, -0.2,
     0.5, 0.6, 0.5, 0.6, 0.7, 0.6, 0.8, 0.7, 0.6, 0.7,
     0.5, 0.5, 0.6, 0.5, 0.4, 0.5, 0.35, 0.3, 0.2, 0.2],
    [0.9, 0.2, 1.0, 2.2, 1.8, 1.5, 2.0, 2.1, 1.8, 1.4,
     0.8, 0.6, 0.5, 0.4, 0.6, 0.5, 0.6, 0.5, 0.5, 0.4,
     0.3, 0.4, 0.3, 0.35, 0.2, 0.1, 0.1, 0.05, 0.0, 0.0],
    [0.3, -0.5, 0.5, 1.5, 1.4, 0.8, 0.0, -0.5, -0.8, -0.3,
     0.3, 0.5, 0.6, 0.5, 0.4, 0.5, 0.6, 0.8, 0.9, 0.8,
     0.6, 0.5, 0.4, 0.5, 0.4, 0.3, 0.2, 0.25, 0.3, 0.3],
    [-0.6, 0.2, 1.8, 1.6, 0.5, 0.2, -0.3, 0.0, 0.4, 0.2,
     -0.2, -0.2, 0.0, -0.3, -0.2, -0.1, -0.2, 0.0, -0.1, -0.2,
     -0.15, -0.1, 0.0, 0.0, -0.1, 0.0, 0.05, 0.1, 0.1, 0.05],
    [2.1, 1.7, 1.2, 0.5, -0.2, -0.8, -0.6, -0.3, 0.3, 0.0,
     0.3, 0.1, 0.2, 0.0, 0.1, -0.1, -0.2, -0.3, -0.2, -0.3,
     -0.2, -0.1, -0.1, -0.2, -0.3, -0.2, -0.1, 0.0, -0.05, -0.1],
    [-2.1, -1.5, -0.8, -0.5, -1.2, -0.5, 0.1, -0.2, -0.6, -0.8,
     -0.5, -0.3, -0.4, -0.6, -0.8, -0.9, -1.0, -0.9, -0.8, -0.9,
     -0.8, -0.7, -0.6, -0.5, -0.5, -0.4, -0.3, -0.2, -0.1, 0.0],
    [-2.3, -2.8, -2.0, -2.6, -3.1, -2.4, -1.5, -0.9, -0.4, -0.3,
     -0.8, -0.6, -0.7, -0.9, -0.8, -1.0, -0.9, -1.1, -1.0, -0.9,
     -0.8, -0.7, -0.6, -0.5, -0.6, -0.5, -0.4, -0.3, -0.25, -0.25],
    [-3.4, -2.5, -1.5, -0.8, -0.5, -1.0, -0.8, -0.2, 0.3, -0.4,
     -1.0, -0.8, -0.9, -1.0, -1.0, -0.9, -1.0, -1.1, -1.0, -1.1,
     -1.0, -0.9, -1.0, -1.0, -0.95, -0.9, -0.9, -0.85, -0.8, -0.8],
    [0.5, 0.8, 0.2, -0.4, -0.8, -1.0, -0.6, -0.2, -0.6, -0.3,
     0.0, -0.2, 0.2, 0.0, -0.2, 0.1, 0.0, -0.2, -0.1, -0.3,
     -0.4, -0.3, -0.5, -0.4, -0.3, -0.2, -0.1, 0.0, 0.05, 0.1],
    [1.8, 2.5, 1.9, 1.8, 1.2, 1.0, 0.3, -0.4, -0.2, 0.0,
     0.6, 0.7, 0.6, 0.5, 0.7, 0.8, 0.9, 0.7, 0.8, 0.7,
     0.7, 0.6, 0.55, 0.6, 0.7, 0.65, 0.6, 0.6, 0.65, 0.7],
]
b_black = [
    -2.3, -1.5, -1.15, -2.6, -2.6, -2.25, -2.75, -2.65, -2.3, -2.45,
    -2.5, -2.25, -2.4, -2.35, -2.1, -1.9, -1.75, -1.6, -1.5, -1.65,
    -1.5, -1.55, -1.6, -1.6, -1.5, -1.65, -1.8, -1.85, -1.9, -1.92,
    -1.85, -1.7, -1.72, -1.6, -1.55, -1.6, -1.6, -1.58, -1.55, -1.52,
    -1.6, -1.62, -1.58, -1.55, -1.45, -1.42, -1.48, -1.42, -1.35, -1.32,
]

d_gray = [
    [4.2, 3.0, 1.5, 2.8, 2.0, 1.5, 1.2, 0.8, 1.0, 1.2,
     1.0, 0.8, 1.2, 1.3, 1.5, 1.3, 1.2, 1.0, 1.1, 1.0,
     1.2, 1.0, 0.9, 0.8, 0.7, 0.6, 0.7, 0.6, 0.6, 0.65],
    [3.5, 2.2, 0.5, -1.0, 0.5, 1.8, 2.6, 2.0, 1.5, 1.0,
     0.8, 0.5, 0.6, 0.4, 0.2, 0.3, 0.5, 0.6, 0.7, 0.8,
     0.7, 0.6, 0.6, 0.7, 0.6, 0.5, 0.55, 0.5, 0.55, 0.55],
    [4.5, 2.0, -0.5, 0.8, 2.5, 1.8, 0.8, 0.5, 0.2, 0.4,
     0.3, 0.0, 0.2, 0.3, 0.1, 0.0, 0.2, 0.3, 0.2, 0.4,
     0.5, 0.4, 0.3, 0.4, 0.5, 0.6, 0.5, 0.5, 0.45, 0.5],
    [2.5, 0.8, -1.5, -2.8, -0.5, 0.5, -0.3, -0.8, -0.5, -1.0,
     -0.8, -0.9, -0.7, -0.6, -0.8, -0.9, -0.8, -0.9, -0.8, -1.0,
     -0.9, -0.8, -0.7, -0.6, -0.6, -0.7, -0.6, -0.6, -0.65, -0.65],
    [1.0, 2.8, 2.0, 1.2, 0.8, 0.5, 0.0, -0.3, 0.2, 0.0,
     -0.3, -0.5, -0.2, 0.0, -0.2, 0.1, 0.0, -0.1, 0.1, 0.0,
     -0.1, 0.1, 0.2, 0.1, 0.0, -0.1, 0.0, 0.1, 0.0, 0.1],
    [-2.0, -1.0, -2.5, -3.0, -1.5, -0.5, 0.3, 0.5, 0.2, -0.2,
     -0.8, -1.1, -0.9, -0.6, -0.8, -1.0, -1.2, -1.0, -1.1, -0.9,
     -0.8, -1.0, -0.9, -0.8, -0.7, -0.6, -0.5, -0.5, -0.55, -0.6],
    [-4.5, -2.5, -1.8, -2.5, -3.2, -2.0, -1.5, -2.0, -1.2, -1.0,
     -1.2, -0.8, -0.5, -0.3, -0.4, -0.2, -0.1, 0.0, 0.2, 0.3,
     0.4, 0.3, 0.2, 0.1, 0.0, -0.1, -0.2, -0.3, -0.2, -0.2],
    [0.5, 1.5, 2.2, 1.0, 0.2, -0.8, -0.5, 0.0, 0.3, 0.1,
     0.0, 0.2, 0.0, -0.2, 0.1, 0.2, 0.0, 0.1, 0.2, 0.1,
     0.3, 0.2, 0.1, 0.0, -0.1, -0.2, -0.3, -0.2, -0.3, -0.3],
    [-1.0, -2.0, -1.0, 0.2, 1.0, 0.5, -0.8, -0.2, 0.5, 0.8,
     0.5, 0.2, 0.4, 0.1, 0.3, 0.2, 0.1, 0.3, 0.4, 0.2,
     0.1, 0.0, -0.1, -0.2, -0.3, -0.4, -0.3, -0.4, -0.4, -0.4],
    [-3.0, -1.5, 0.0, 1.5, 2.0, 2.2, 1.5, 1.8, 1.4, 1.2,
     0.9, 1.0, 0.6, 0.4, 0.3, 0.1, 0.2, 0.0, -0.2, -0.1,
     0.0, 0.1, 0.0, 0.2, 0.1, 0.0, -0.1, 0.0, -0.1, -0.1],
    [-4.5, -3.5, -2.5, -2.0, -2.5, -2.2, -2.5, -1.8, -1.5, -1.2,
     -1.0, -1.0, -0.8, -0.9, -1.0, -0.9, -1.1, -1.0, -1.2, -1.1,
     -1.0, -1.0, -0.9, -0.8, -0.8, -0.6, -0.7, -0.6, -0.5, -0.5],
    [2.0, 0.5, 1.0, 2.2, 1.2, 0.8, 1.2, 0.9, 0.6, 0.5,
     0.4, 0.6, 0.5, 0.3, 0.5, 0.4, 0.3, 0.5, 0.6, 0.5,
     0.6, 0.7, 0.8, 0.7, 0.6, 0.5, 0.3, 0.2, 0.1, 0.0],
]
d_black = [
    -3.7, -0.8, 0.5, -0.8, 0.0, 1.35, 0.8, 0.95, 1.0, 1.05,
    1.8, 1.6, 1.55, 1.75, 1.3, 1.05, 0.85, 1.05, 1.25, 1.3,
    1.3, 1.4, 1.2, 1.3, 1.25, 1.5, 1.75, 1.9, 2.0, 1.85,
    1.95, 1.8, 1.8, 1.85, 1.85, 1.85, 1.8, 1.8, 1.75, 1.7,
    1.6, 1.6, 1.6, 1.6, 1.55, 1.6, 1.65, 1.6, 1.55, 1.55,
]

f_gray = [
    [2.6, 3.0, 2.0, 1.5, 1.0, 0.7, 0.4, 0.2, 0.0, 0.3,
     0.5, 0.3, 0.6, 0.8, 0.9, 0.95, 1.0, 0.9, 0.7, 0.8,
     0.6, 0.7, 0.6, 0.65, 0.7, 0.75, 0.7, 0.65, 0.6, 0.55],
    [2.4, 1.5, 0.5, 0.0, -0.5, 0.5, 1.2, 1.3, 1.2, 0.8,
     0.0, -0.2, 0.4, 0.6, 0.8, 0.9, 1.0, 1.0, 0.9, 0.7,
     0.5, 0.4, 0.5, 0.4, 0.3, 0.4, 0.45, 0.4, 0.35, 0.4],
    [1.8, 2.0, 1.5, 1.0, 1.6, 1.2, 0.8, 0.3, -0.2, 0.0,
     0.3, 0.6, 0.5, 0.7, 0.9, 1.0, 0.9, 1.0, 0.9, 0.6,
     0.4, 0.3, 0.35, 0.3, 0.4, 0.3, 0.25, 0.3, 0.3, 0.3],
    [1.0, 0.3, -0.5, -0.3, 0.5, 1.0, 1.2, 1.1, 0.8, 0.3,
     0.0, -0.1, 0.0, 0.2, 0.4, 0.5, 0.6, 0.5, 0.3, 0.2,
     0.3, 0.1, 0.2, 0.3, 0.2, 0.3, 0.2, 0.25, 0.2, 0.25],
    [0.3, 1.0, 1.5, 1.2, 0.6, 0.0, -0.4, -0.3, 0.2, 0.5,
     0.2, 0.0, -0.1, 0.0, 0.2, 0.1, 0.0, -0.1, 0.0, 0.1,
     0.0, -0.1, 0.0, 0.1, 0.0, 0.05, 0.1, 0.15, 0.1, 0.1],
    [-0.2, -0.8, -1.5, -0.8, 0.2, 0.8, 1.0, 0.6, -0.2, -0.5,
     -0.7, -0.6, -0.5, -0.6, -0.5, -0.3, -0.2, -0.3, -0.1, 0.0,
     -0.1, -0.2, -0.1, 0.0, 0.1, 0.0, -0.1, 0.0, 0.0, 0.0],
    [-1.5, -1.0, -0.2, 0.5, 1.2, 1.3, 0.8, 0.2, 0.0, -0.3,
     0.1, -0.4, -0.5, -0.7, -0.6, -0.5, -0.4, -0.3, -0.2, -0.3,
     -0.2, -0.1, -0.2, -0.3, -0.2, -0.1, -0.15, -0.1, -0.1, -0.1],
    [-2.0, -1.2, -1.8, -2.2, -2.0, -1.3, -0.6, -0.3, 0.0, 0.2,
     0.5, 0.3, 0.2, 0.0, -0.2, -0.4, -0.5, -0.6, -0.7, -0.8,
     -0.6, -0.5, -0.4, -0.3, -0.3, -0.2, -0.3, -0.2, -0.2, -0.2],
    [-2.5, -2.8, -2.2, -1.5, -1.0, -0.5, -0.3, -0.6, -0.9, -0.7,
     -0.5, -0.3, -0.6, -0.7, -0.8, -0.6, -0.7, -0.8, -0.9, -0.8,
     -0.6, -0.5, -0.4, -0.5, -0.4, -0.3, -0.35, -0.3, -0.3, -0.3],
    [-3.0, -2.5, -1.5, -0.8, -0.4, -0.5, -0.8, -0.6, -0.3, -0.5,
     -0.7, -0.8, -0.9, -1.0, -0.9, -0.9, -1.0, -0.9, -0.9, -1.0,
     -0.9, -1.0, -0.95, -0.9, -0.9, -0.85, -0.9, -0.85, -0.8, -0.8],
    [0.8, 0.2, 0.6, 1.2, 1.5, 0.8, 0.2, -0.2, -0.6, -0.4,
     0.2, 0.5, 0.7, 0.8, 0.7, 0.6, 0.8, 0.9, 0.8, 0.5,
     0.3, 0.2, 0.1, 0.2, 0.1, 0.2, 0.1, 0.15, 0.2, 0.1],
    [-1.0, -1.8, -2.5, -2.0, -1.5, -0.8, -0.2, 0.2, 0.5, 0.3,
     -0.2, 0.1, 0.3, 0.2, 0.0, -0.2, -0.3, -0.2, -0.4, -0.3,
     -0.5, -0.6, -0.5, -0.4, -0.3, -0.2, -0.1, 0.0, 0.1, 0.2],
]
f_black = [
    -0.1, 0.35, -0.5, -1.65, -1.3, -1.2, -1.65, -1.5, -1.15, -1.15,
    -1.18, -1.15, -1.4, -1.55, -1.3, -1.05, -1.0, -0.95, -0.85, -1.1,
    -1.05, -1.15, -1.25, -1.3, -1.25, -1.35, -1.5, -1.45, -1.5, -1.45,
    -1.35, -1.35, -1.25, -1.3, -1.25, -1.2, -1.25, -1.2, -1.15, -1.05,
    -1.2, -1.15, -1.1, -1.1, -1.05, -1.1, -1.15, -1.1, -1.05, -1.05,
]

h_gray = [
    [5.8, 2.5, 5.2, 4.5, 3.0, 2.2, 1.5, 1.2, 1.5, 1.8,
     1.5, 1.0, 1.2, 0.8, 0.6, 0.8, 1.0, 1.2, 1.0, 0.8,
     0.9, 0.7, 0.6, 0.8, 0.7, 0.6, 0.5, 0.6, 0.55, 0.6],
    [3.5, 4.2, 3.0, 1.5, 4.2, 3.0, 2.5, 3.0, 2.8, 2.2,
     1.8, 1.5, 1.2, 0.8, 0.5, 0.3, 0.5, 0.3, 0.5, 0.4,
     0.3, 0.5, 0.4, 0.3, 0.4, 0.5, 0.4, 0.45, 0.5, 0.5],
    [3.0, 1.0, -1.5, -3.0, -1.0, 0.5, 1.8, 2.5, 2.0, 1.5,
     1.2, 1.0, 0.6, 0.3, 0.5, 0.6, 0.8, 1.0, 1.2, 1.0,
     0.8, 0.6, 0.5, 0.4, 0.5, 0.3, 0.4, 0.3, 0.35, 0.4],
    [0.5, 2.0, 1.0, -0.5, -2.0, -1.0, 0.0, 0.5, -0.5, 0.2,
     0.5, 0.3, 0.0, -0.3, 0.0, 0.2, 0.5, 0.3, 0.2, 0.0,
     0.3, 0.2, 0.1, 0.3, 0.2, 0.1, 0.2, 0.3, 0.25, 0.3],
    [-2.0, 0.0, 0.5, 1.5, 0.5, -0.5, -1.0, 0.0, 0.5, 0.0,
     -0.3, 0.2, 0.5, 0.6, 0.8, 0.5, 0.6, 0.8, 0.5, 0.6,
     0.4, 0.3, 0.2, 0.1, 0.2, 0.0, 0.1, 0.0, 0.1, 0.1],
    [1.5, -1.0, -2.0, -1.5, -0.5, -2.0, -3.0, -1.5, -0.8, -0.5,
     -0.2, -0.5, -0.3, -0.6, -0.8, -0.5, -0.3, -0.5, -0.6, -0.4,
     -0.2, -0.3, -0.4, -0.2, -0.1, 0.0, -0.1, 0.0, -0.05, 0.0],
    [-3.5, -3.0, -3.8, -2.5, -3.2, -2.0, -2.5, -1.8, -1.5, -2.0,
     -1.5, -1.2, -1.5, -1.2, -1.0, -0.5, -0.2, -0.4, -0.5, -0.3,
     -0.4, -0.5, -0.4, -0.3, -0.2, -0.3, -0.2, -0.3, -0.2, -0.2],
    [-5.0, -3.0, -1.5, -2.0, -3.5, -2.5, -2.0, -2.5, -2.2, -2.0,
     -1.8, -2.2, -1.5, -1.2, -0.8, -1.0, -1.2, -1.5, -1.3, -1.4,
     -1.2, -1.1, -1.2, -1.3, -1.2, -1.1, -1.0, -1.0, -0.95, -0.9],
    [-6.0, -5.0, -4.0, -4.5, -2.5, -1.5, -0.5, 0.0, -0.5, -1.0,
     -1.5, -1.8, -2.0, -1.6, -1.2, -1.5, -1.6, -1.4, -1.2, -1.0,
     -0.9, -0.8, -0.9, -1.0, -0.9, -1.0, -1.1, -1.0, -1.0, -1.0],
    [2.5, 3.5, 2.0, 0.0, 1.0, 2.5, 2.0, 1.0, 0.2, -0.5,
     -0.8, -0.5, -0.3, 0.0, 0.3, 0.0, -0.2, -0.5, -0.8, -0.6,
     -0.5, -0.7, -0.6, -0.5, -0.6, -0.5, -0.6, -0.5, -0.6, -0.6],
    [-4.0, -5.5, -3.0, -2.0, -1.0, 0.0, 1.0, 0.5, 1.0, 1.5,
     1.0, 0.8, 0.3, 0.0, -0.5, -1.0, -0.8, -0.5, -0.3, 0.0,
     0.2, 0.0, -0.2, -0.3, -0.2, -0.3, -0.4, -0.3, -0.4, -0.4],
    [0.0, -2.0, -1.0, 0.5, 2.5, 3.0, 3.2, 2.8, 2.2, 1.5,
     0.8, 0.5, 0.8, 1.0, 1.2, 1.3, 1.0, 0.8, 0.6, 0.5,
     0.3, 0.1, -0.1, -0.2, -0.3, -0.2, -0.3, -0.2, -0.3, -0.3],
]
h_black = [
    4.5, 3.2, 3.8, 2.9, 3.6, 2.2, 3.0, 3.4, 3.6, 3.0,
    2.8, 2.6, 2.3, 2.45, 2.6, 2.5, 2.4, 2.15, 2.0, 1.9,
    2.1, 2.2, 2.2, 2.3, 2.1, 1.95, 2.05, 2.2, 2.3, 2.25,
    2.15, 2.15, 2.0, 2.3, 2.15, 2.1, 2.05, 2.0, 1.95, 1.95,
    1.9, 1.9, 1.85, 1.8, 1.75, 1.65, 1.75, 1.7, 1.65, 1.6,
]

captions_left = ["(a) upper 20% first-order CPA", "(c) lower 80% first-order CPA",
                 "(e) upper 30% first-order CPA", "(g) lower 70% first-order CPA"]
captions_right = ["(b) correlation trend", "(d) correlation trend",
                  "(f) correlation trend", "(h) correlation trend"]

# ---------------- FIGURE ----------------
W, H = 912, 1001
fig = plt.figure(figsize=(W / 100, H / 100), dpi=100)

GRAY = "#b3b3b3"
AXC = "#262626"
row_top_px = [5, 262, 518, 776]
ax_h_px = 141
left_x0, right_x0, ax_w_px = 51, 510, 392


def make_ax(x0, top):
    ax = fig.add_axes([x0 / W, 1 - (top + ax_h_px) / H, ax_w_px / W, ax_h_px / H])
    for s in ax.spines.values():
        s.set_color(AXC)
        s.set_linewidth(0.8)
    ax.tick_params(direction="in", top=True, right=True, length=4, width=0.8,
                   colors=AXC, labelsize=12.5, labelcolor="#262626")
    ax.tick_params(axis="x", pad=10)
    ax.tick_params(axis="y", pad=5)
    return ax


left_specs = [
    (a_gray, a_black, (-8, 6), [-8, -4, 0, 4], "min"),
    (c_gray, c_black, (-2.5, 2.5), [-2, -1, 0, 1, 2], "max"),
    (e_gray, e_black, (-7, 5), [-4, 0, 4], "min"),
    (g_gray, g_black, (-2.5, 2.5), [-2, -1, 0, 1, 2], "max"),
]
right_specs = [
    (b_gray, b_black, 0.1, (0.1, 5), [1, 2, 3, 4, 5], (-3.5, 2.5), [-2, 0, 2], 2),
    (d_gray, d_black, 1.0, (1, 50), [10, 20, 30, 40, 50], (-4, 4), [-4, -2, 0, 2, 4], 3),
    (f_gray, f_black, 0.1, (0.1, 5), [1, 2, 3, 4, 5], (-3, 3), [-3, 0, 3], 2),
    (h_gray, h_black, 1.0, (1, 50), [10, 20, 30, 40, 50], (-6, 6), [-6, 0, 6], 3),
]

for r in range(4):
    top = row_top_px[r]
    # ----- left: CPA traces
    gray, black, ylim, yticks, mode = left_specs[r]
    ax = make_ax(left_x0, top)
    for g in gray:
        ax.plot(gray_t[:len(g)], g, color=GRAY, lw=1.1, zorder=1)
    bt = black_t[:len(black)]
    ax.plot(bt, black, color="black", lw=1.0, zorder=3)
    barr = np.array(black)
    k = int(np.argmin(barr)) if mode == "min" else int(np.argmax(barr))
    ax.plot([bt[k]], [barr[k]], marker="x", color="black", ms=7, mew=1.0,
            linestyle="none", zorder=4)
    ax.set_xlim(1, 372)
    ax.set_ylim(*ylim)
    ax.set_xticks([100, 200, 300])
    ax.set_yticks(yticks)
    ax.set_xlabel("Time samples", fontsize=12, color="#262626", labelpad=2)
    ax.set_ylabel("Correlation \u00d7 10$^{-3}$", fontsize=12, color="#262626", labelpad=3)
    fig.text(171 / W, 1 - (top + 203) / H, captions_left[r], family="cmr10",
             fontsize=14.5, ha="center", va="center")

    # ----- right: correlation trend
    gray, black, xs, xlim, xticks, ylim, yticks, ex = right_specs[r]
    ax = make_ax(right_x0, top)
    gx = np.array(trend_idx_gray) * xs
    for g in gray:
        ax.plot(gx[:len(g)], g, color=GRAY, lw=1.0, zorder=1)
    bx = np.array(trend_idx_black) * xs
    ax.plot(bx[:len(black)], black, color="black", lw=1.0, zorder=3)
    ax.set_xlim(*xlim)
    ax.set_ylim(*ylim)
    ax.set_xticks(xticks)
    ax.set_yticks(yticks)
    ax.set_xlabel("# of measurements \u00d7 10$^{5}$", fontsize=12, color="#262626", labelpad=2)
    ax.set_ylabel("Correlation \u00d7 10$^{-%d}$" % ex, fontsize=12, color="#262626", labelpad=3)
    fig.text(712 / W, 1 - (top + 203) / H, captions_right[r], family="cmr10",
             fontsize=14.5, ha="center", va="center")

fig.savefig("out.png", dpi=100)
